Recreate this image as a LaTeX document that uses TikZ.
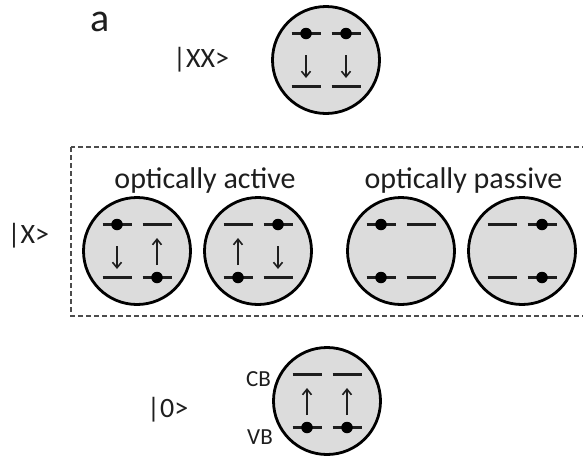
\documentclass[tikz,border=0pt]{standalone}
\usepackage{fontspec}
\setmainfont{Carlito}
\usetikzlibrary{arrows.meta}
\definecolor{qdfill}{HTML}{DCDCDC}
\definecolor{ink}{HTML}{1E1E1E}
\tikzset{
  qd/.style={circle, draw=black, line width=2.8pt, fill=qdfill, minimum size=107pt, inner sep=0pt},
  lvl/.style={line width=2.6pt, draw=ink},
  elec/.style={circle, fill=black, minimum size=11.5pt, inner sep=0pt},
  trans/.style={line width=1.6pt, draw=ink, -{Straight Barb[length=5.5pt,width=9pt,line width=1.6pt]}},
  lab/.style={text=ink, inner sep=0pt, font=\fontsize{28}{30}\selectfont},
  small/.style={text=ink, inner sep=0pt, font=\fontsize{23}{25}\selectfont},
  head/.style={text=ink, inner sep=0pt, anchor=base, font=\fontsize{30}{32}\selectfont},
  dashbox/.style={draw=black!70, line width=1.6pt, dash pattern=on 5pt off 3pt},
}
\newcommand\qdlvls{%
  \draw[lvl] (-34.5,-26.5) -- (-5.5,-26.5);
  \draw[lvl] (5.5,-26.5) -- (34.5,-26.5);
  \draw[lvl] (-34.5,26.5) -- (-5.5,26.5);
  \draw[lvl] (5.5,26.5) -- (34.5,26.5);}
\newcommand\eTL{\node[elec] at (-20,-26.5) {};}
\newcommand\eTR{\node[elec] at (20,-26.5) {};}
\newcommand\eBL{\node[elec] at (-20,26.5) {};}
\newcommand\eBR{\node[elec] at (20,26.5) {};}
\newcommand\dnL{\coordinate (s) at (-20,-5); \coordinate (t) at (-20,18); \draw[trans] (s) -- (t);}
\newcommand\dnR{\coordinate (s) at (20,-5); \coordinate (t) at (20,18); \draw[trans] (s) -- (t);}
\newcommand\upL{\coordinate (s) at (-20,14); \coordinate (t) at (-20,-13); \draw[trans] (s) -- (t);}
\newcommand\upR{\coordinate (s) at (20,14); \coordinate (t) at (20,-13); \draw[trans] (s) -- (t);}
\begin{document}
\begin{tikzpicture}[x=1pt,y=-1pt]
\useasboundingbox (0,0) rectangle (583,456);
\fill[white] (0,0) rectangle (583,456);
% dashed box
\draw[dashbox] (71,147) rectangle (600,316);
% labels
\node[text=ink, inner sep=0pt, font=\fontsize{40}{42}\selectfont] (la) at (100,21.5) {a};
\node[lab, anchor=west] (lxx) at (173,60) {|XX>};
\node[lab, anchor=west] (lx) at (7.5,236) {|X>};
\node[lab, anchor=west] (l0) at (147,409.5) {|0>};
\node[head] (act) at (205,188) {optically active};
\node[head] (pas) at (463.5,188) {optically passive};
\node[small] (cb) at (258.5,379.5) {CB};
\node[small] (vb) at (260,437.5) {VB};
% |XX>
\node[qd] (xx) at (326,60) {};
\begin{scope}[shift={(xx.center)}]
  \qdlvls \eTL \eTR \dnL \dnR
\end{scope}
% |X> active
\node[qd] (a1) at (137,251) {};
\begin{scope}[shift={(a1.center)}]
  \qdlvls \eTL \eBR \dnL \upR
\end{scope}
\node[qd] (a2) at (258,251) {};
\begin{scope}[shift={(a2.center)}]
  \qdlvls \eTR \eBL \upL \dnR
\end{scope}
% |X> passive
\node[qd] (p1) at (401,251) {};
\begin{scope}[shift={(p1.center)}]
  \qdlvls \eTL \eBL
\end{scope}
\node[qd] (p2) at (522,251) {};
\begin{scope}[shift={(p2.center)}]
  \qdlvls \eTR \eBR
\end{scope}
% |0>
\node[qd] (g) at (327,401) {};
\begin{scope}[shift={(g.center)}]
  \qdlvls \eBL \eBR \upL \upR
\end{scope}
\end{tikzpicture}
\end{document}
